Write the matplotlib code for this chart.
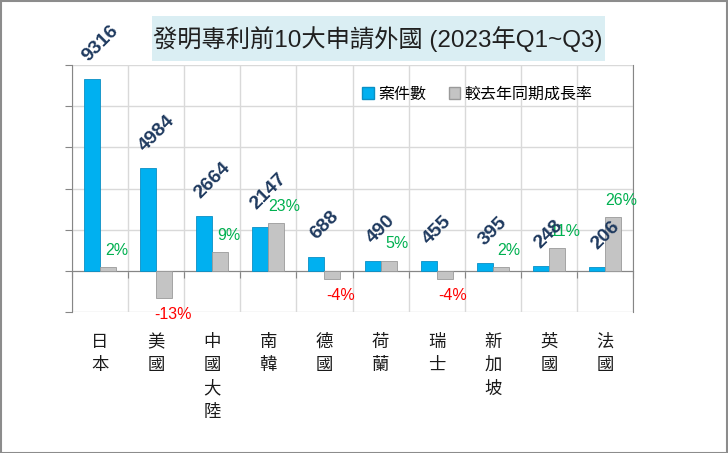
import matplotlib
matplotlib.use("Agg")
import matplotlib.pyplot as plt
from matplotlib.patches import Rectangle, Patch

countries = ["日本", "美國", "中國大陸", "南韓", "德國", "荷蘭", "瑞士", "新加坡", "英國", "法國"]
cases = [9316, 4984, 2664, 2147, 688, 490, 455, 395, 248, 206]
growth = [2, -13, 9, 23, -4, 5, -4, 2, 11, 26]

title = "發明專利前10大申請外國 (2023年Q1~Q3)"
legend_labels = ["案件數", "較去年同期成長率"]

FONTS = ["Liberation Sans", "Noto Sans CJK TC", "DejaVu Sans"]
CJK = ["Noto Sans CJK TC", "DejaVu Sans"]
plt.rcParams["font.family"] = FONTS

BLUE = "#00B0F0"
GRAY = "#C4C4C4"
GRID = "#D9D9D9"
AXIS = "#868686"

W, H = 728, 453
fig = plt.figure(figsize=(W / 100, H / 100), dpi=100)

# plot area in pixels: x 72..633, y 65..312
ax = fig.add_axes([72 / W, 1 - 312 / H, (633 - 72) / W, (312 - 65) / H])
ax2 = ax.twinx()

x = list(range(len(countries)))
bw = 0.285
off = 0.143

ax.set_xlim(-0.5, len(countries) - 0.5)
ax.set_ylim(-2000, 10000)
ax.set_yticks(range(-2000, 10001, 2000))
ax.set_yticklabels([])
ax2.set_ylim(-20, 100)
ax2.set_yticks([])

ax.set_xticks([i - 0.5 for i in range(len(countries) + 1)])
ax.set_xticklabels([])
ax.grid(True, color=GRID, lw=1)
ax.set_axisbelow(True)

for s in ["top", "right"]:
    ax.spines[s].set_visible(False)
ax.spines["left"].set_color(AXIS)
ax.spines["bottom"].set_position(("data", 0))
ax.spines["bottom"].set_color(AXIS)
ax.tick_params(axis="y", length=5, color=AXIS, direction="out")
ax.tick_params(axis="x", length=5, color=AXIS, direction="out")
for s in ["top", "left", "bottom"]:
    ax2.spines[s].set_visible(False)
ax2.spines["right"].set_color(AXIS)

b1 = ax.bar([i - off for i in x], cases, width=bw, color=BLUE,
            edgecolor="#0A8FC4", lw=0.6, zorder=3)
b2 = ax2.bar([i + off for i in x], growth, width=bw, color=GRAY,
             edgecolor="#9A9A9A", lw=0.6, zorder=3)

# count labels, rotated (drawn on ax2 so they sit above the grey bars)
for r, v in zip(b1, cases):
    ax2.annotate(str(v), (r.get_x() + r.get_width() / 2, v),
                 xycoords=ax.transData,
                 xytext=(6, 10), textcoords="offset points",
                 rotation=45, ha="center", va="bottom", zorder=5,
                 fontsize=14, fontweight="bold", color="#1F3A5F")

# growth labels
for r, v in zip(b2, growth):
    col = "#00B050" if v >= 0 else "#FF0000"
    dy = 12 if v >= 0 else -12
    ax2.annotate(f"{v}%", (r.get_x() + r.get_width() / 2, v),
                 xytext=(6, dy), textcoords="offset points",
                 ha="center", va="center", fontsize=11.5, color=col)

# category names written top to bottom
for i, name in zip(x, countries):
    ax.annotate("\n".join(name), (i, 0), xycoords=("data", "axes fraction"),
                xytext=(0, -15), textcoords="offset points",
                ha="center", va="top", fontsize=12.5, color="#1A1A1A",
                family=CJK, linespacing=1.38)

handles = [Patch(facecolor=BLUE, edgecolor="#0A8FC4"),
           Patch(facecolor=GRAY, edgecolor="#9A9A9A")]
ax2.legend(handles, legend_labels, loc="center left",
           bbox_to_anchor=(348 / W, 1 - 94 / H), bbox_transform=fig.transFigure,
           ncol=2, frameon=False, handlelength=0.7, handleheight=0.7,
           handletextpad=0.3, columnspacing=1.4,
           prop={"family": CJK, "size": 11.5})

# title box
fig.patches.append(Rectangle((152 / W, 1 - 61 / H), 453 / W, 45 / H,
                             transform=fig.transFigure, facecolor="#DAEEF3",
                             edgecolor="none", zorder=0))
fig.text(378 / W, 1 - 39 / H, title, ha="center", va="center",
         fontsize=17.5, color="#202020")

# outer chart border
fig.patches.append(Rectangle((0.5 / W, 0.5 / H), (W - 1.5) / W, (H - 1.5) / H,
                             transform=fig.transFigure, facecolor="none",
                             edgecolor="#8C8C8C", lw=1.5, zorder=10))

fig.savefig("out.png", dpi=100)
